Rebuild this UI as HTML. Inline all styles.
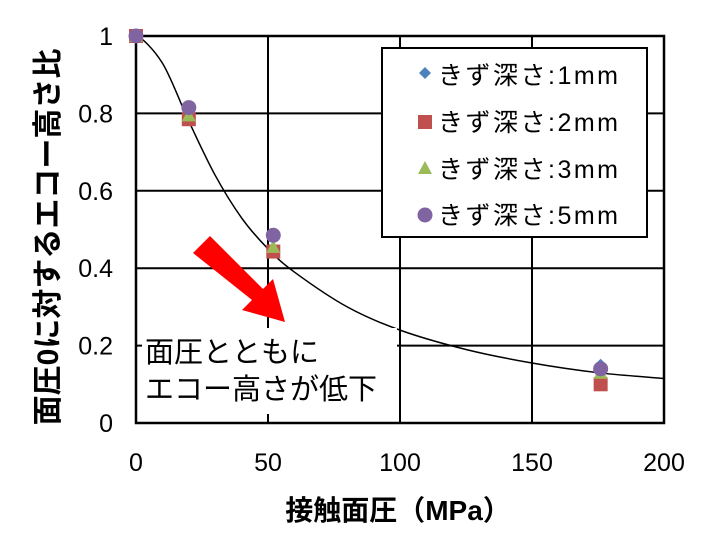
<!DOCTYPE html>
<html><head><meta charset="utf-8"><style>
body{margin:0;background:#fff}
svg text{font-family:"Liberation Sans","Noto Sans CJK JP",sans-serif}
</style></head><body>
<svg id="chart" width="712" height="535" xmlns="http://www.w3.org/2000/svg">
<g id="grid"></g>
<g id="axes"></g>
<path id="fit" fill="none" stroke="#000" stroke-width="1.5"/>
<g id="marks"></g>
<g>
<polygon fill="#ff0000" points="193,253 210,236 263,289 273,279 285,322 242,310 252,300"/>
<rect x="142" y="328" width="255" height="86" fill="#fff"/>
<text x="145" y="362" font-size="29">面圧とともに</text>
<text x="145" y="399" font-size="29">エコー高さが低下</text>
</g>
<g>
<rect x="382" y="48" width="265" height="189" fill="#fff" stroke="#000" stroke-width="2"/>
<polygon points="425,67 431,73 425,79 419,73" fill="#4f81bd"/>
<text x="438" y="84" font-size="25" textLength="180">きず深さ:1mm</text>
<rect x="418" y="115" width="14" height="14" fill="#c0504d"/>
<text x="438" y="131" font-size="25" textLength="180">きず深さ:2mm</text>
<polygon points="425,161 432,174 418,174" fill="#9bbb59"/>
<text x="438" y="178" font-size="25" textLength="180">きず深さ:3mm</text>
<circle cx="425" cy="215" r="7.5" fill="#8064a2"/>
<text x="438" y="224" font-size="25" textLength="180">きず深さ:5mm</text>
</g>
<text x="398" y="520" font-size="28" font-weight="bold" text-anchor="middle">接触面圧（MPa）</text>
<text transform="translate(58,237) rotate(-90)" font-size="30" font-weight="bold" text-anchor="middle">面圧0に対するエコー高さ比</text>
</svg>
<script>
const xTicks=[0,50,100,150,200];
const yTicks=[0,0.2,0.4,0.6,0.8,1];
const yTickLabels=["0","0.2","0.4","0.6","0.8","1"];
const pressures=[0,20,52,176];
const depth1=[1,0.79,0.45,0.148];
const depth2=[1,0.785,0.443,0.10];
const depth3=[1,0.795,0.455,0.13];
const depth5=[1,0.815,0.485,0.14];
const fitX=[0,10,20,30,40,50,60,80,100,125,150,175,200];
const fitY=[1,0.93,0.78,0.64,0.53,0.45,0.39,0.30,0.24,0.19,0.155,0.13,0.115];
const NS="http://www.w3.org/2000/svg";
const X0=136,X1=664,Y0=423,Y1=36;
const sx=v=>X0+(v-0)/200*(X1-X0);
const sy=v=>Y0-v*(Y0-Y1);
function mk(tag,attrs,parent){const e=document.createElementNS(NS,tag);for(const k in attrs)e.setAttribute(k,attrs[k]);parent.appendChild(e);return e;}
const grid=document.getElementById('grid'),axes=document.getElementById('axes'),marks=document.getElementById('marks');
xTicks.forEach(t=>{const l=mk('line',{x1:sx(t),x2:sx(t),y1:Y1,y2:Y0,stroke:'#000','stroke-width':2},grid);


const tx=mk('text',{x:sx(t),y:471,'font-size':25,'text-anchor':'middle'},axes);tx.textContent=t;

});
yTicks.forEach((t,i)=>{const l=mk('line',{x1:X0,x2:X1,y1:sy(t),y2:sy(t),stroke:'#000','stroke-width':2},grid);


const tx=mk('text',{x:113,y:sy(t)+9,'font-size':25,'text-anchor':'end'},axes);tx.textContent=yTickLabels[i];

});
mk('rect',{x:X0,y:Y1,width:X1-X0,height:Y0-Y1,fill:'none',stroke:'#000','stroke-width':2.5},axes);
const P=fitX.map((x,i)=>[sx(x),sy(fitY[i])]);
let d='M'+P[0][0]+','+P[0][1];
for(let i=0;i<P.length-1;i++){const p0=P[Math.max(0,i-1)],p1=P[i],p2=P[i+1],p3=P[Math.min(P.length-1,i+2)];
const c1=[p1[0]+(p2[0]-p0[0])/6,p1[1]+(p2[1]-p0[1])/6],c2=[p2[0]-(p3[0]-p1[0])/6,p2[1]-(p3[1]-p1[1])/6];
if(i===0)c1[1]=p1[1];
d+=` C${c1[0]},${c1[1]} ${c2[0]},${c2[1]} ${p2[0]},${p2[1]}`;}
document.getElementById('fit').setAttribute('d',d);
pressures.forEach((p,i)=>{const x=sx(p);
let y=sy(depth1[i]);const a=mk('polygon',{points:`${x},${y-7} ${x+7},${y} ${x},${y+7} ${x-7},${y}`,fill:'#4f81bd'},marks);

y=sy(depth2[i]);const b=mk('rect',{x:x-7,y:y-7,width:14,height:14,fill:'#c0504d'},marks);

y=sy(depth3[i]);const c=mk('polygon',{points:`${x},${y-7} ${x+7},${y+6} ${x-7},${y+6}`,fill:'#9bbb59'},marks);

y=sy(depth5[i]);const e=mk('circle',{cx:x,cy:y,r:7.5,fill:'#8064a2'},marks);
});
</script>
</body></html>
